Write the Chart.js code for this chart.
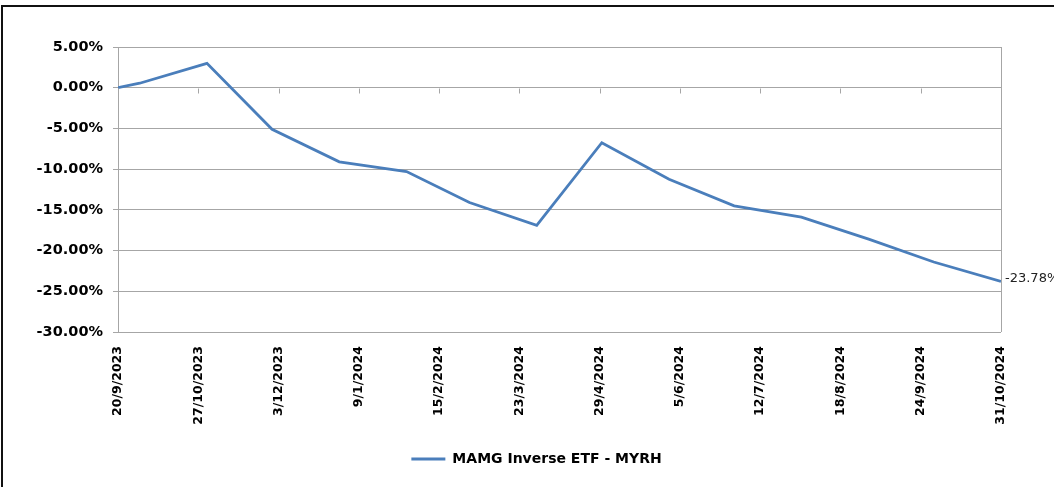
<!DOCTYPE html>
<html>
<head>
<meta charset="utf-8">
<script src="https://cdn.jsdelivr.net/npm/chart.js@4.4.1/dist/chart.umd.min.js"></script>
<style>
  html, body { margin: 0; padding: 0; background: #fff; }
  #wrap { position: relative; width: 1054px; height: 487px; overflow: hidden; }
  #frame { position: absolute; left: 1px; top: 5px; right: -10px; bottom: -10px;
           border-left: 2px solid #111; border-top: 2px solid #111; }
  #chart { position: absolute; left: 0; top: 0; }
</style>
</head>
<body>
<div id="wrap">
  <div id="frame"></div>
  <canvas id="chart" width="1054" height="487"></canvas>
</div>
<script>
'use strict';

// series start date, x values are counted in days from here
var startDate = '2023-09-20';

// month-end observations (cumulative return, %)
var pointDates = ['2023-09-20', '2023-09-30', '2023-10-31', '2023-11-30', '2023-12-31',
  '2024-01-31', '2024-02-29', '2024-03-31', '2024-04-30', '2024-05-31',
  '2024-06-30', '2024-07-31', '2024-08-31', '2024-09-30', '2024-10-31'];
var returnPct = [0, 0.55, 3.0, -5.1, -9.1,
  -10.3, -14.1, -16.9, -6.75, -11.25,
  -14.5, -15.9, -18.6, -21.4, -23.78];

// x axis ticks (every 37 days, as in the source sheet)
var tickDates = ['2023-09-20', '2023-10-27', '2023-12-03', '2024-01-09', '2024-02-15', '2024-03-23',
  '2024-04-29', '2024-06-05', '2024-07-12', '2024-08-18', '2024-09-24', '2024-10-31'];
var tickLabels = ['20/9/2023', '27/10/2023', '3/12/2023', '9/1/2024', '15/2/2024', '23/3/2024',
  '29/4/2024', '5/6/2024', '12/7/2024', '18/8/2024', '24/9/2024', '31/10/2024'];

var yTicks = [5, 0, -5, -10, -15, -20, -25, -30];
var seriesName = 'MAMG Inverse ETF - MYRH';
var endLabel = '-23.78%';

var lineColor = '#4A7EBB';
var gridColor = '#a6a6a6';
var fontFamily = '"DejaVu Sans", Verdana, sans-serif';

function dayNum(s) {
  return (Date.parse(s) - Date.parse(startDate)) / 86400000;
}

var points = pointDates.map(function (d, i) {
  return { x: dayNum(d), y: returnPct[i] };
});

// legend sits under the whole sheet, not under the canvas minus right margin
var legendShiftPlugin = {
  id: 'legendShift',
  afterLayout: function (chart) {
    if (chart.legend) {
      chart.legend.left += 36;
      chart.legend.right += 36;
    }
  }
};

// tick marks on the 0% line, right plot border and end-of-line label
var extrasPlugin = {
  id: 'extras',
  afterDraw: function (chart) {
    var ctx = chart.ctx;
    var area = chart.chartArea;
    var xs = chart.scales.x;
    var ys = chart.scales.y;
    var y0 = Math.round(ys.getPixelForValue(0)) + 0.5;

    ctx.save();
    ctx.strokeStyle = gridColor;
    ctx.lineWidth = 1;
    ctx.beginPath();
    xs.ticks.forEach(function (t) {
      var x = Math.round(xs.getPixelForValue(t.value)) + 0.5;
      ctx.moveTo(x, y0);
      ctx.lineTo(x, y0 + 5);
    });
    var xr = Math.round(area.right) + 0.5;
    ctx.moveTo(xr, area.top);
    ctx.lineTo(xr, area.bottom);
    ctx.stroke();

    var meta = chart.getDatasetMeta(0);
    var last = meta.data[meta.data.length - 1];
    ctx.fillStyle = '#222';
    ctx.font = '13px ' + fontFamily;
    ctx.textAlign = 'left';
    ctx.textBaseline = 'middle';
    ctx.fillText(endLabel, last.x + 4, last.y - 3);
    ctx.restore();
  }
};

var ctx = document.getElementById('chart').getContext('2d');
new Chart(ctx, {
  type: 'line',
  data: {
    datasets: [{
      label: seriesName,
      data: points,
      borderColor: lineColor,
      backgroundColor: lineColor,
      borderWidth: 2.8,
      pointRadius: 0,
      tension: 0,
      fill: false
    }]
  },
  options: {
    responsive: false,
    animation: false,
    layout: { padding: { left: 0, right: 53, top: 47, bottom: 11 } },
    plugins: {
      tooltip: { enabled: false },
      legend: {
        position: 'bottom',
        labels: {
          boxWidth: 34,
          boxHeight: 3,
          padding: 10,
          color: '#000',
          font: { family: fontFamily, size: 14, weight: 'bold' },
          generateLabels: function (chart) {
            var items = Chart.defaults.plugins.legend.labels.generateLabels(chart);
            items.forEach(function (it) {
              it.lineWidth = 0;
              it.fillStyle = lineColor;
            });
            return items;
          }
        }
      }
    },
    scales: {
      x: {
        type: 'linear',
        min: dayNum(pointDates[0]),
        max: dayNum(pointDates[pointDates.length - 1]),
        afterBuildTicks: function (scale) {
          scale.ticks = tickDates.map(function (d) { return { value: dayNum(d) }; });
        },
        afterFit: function (scale) { scale.height = 110; },
        grid: { display: false },
        border: { display: false },
        ticks: {
          autoSkip: false,
          minRotation: 90,
          maxRotation: 90,
          padding: 6,
          color: '#000',
          font: { family: fontFamily, size: 12.5, weight: 'bold' },
          callback: function (v, i) { return tickLabels[i]; }
        }
      },
      y: {
        min: yTicks[yTicks.length - 1],
        max: yTicks[0],
        afterBuildTicks: function (scale) {
          scale.ticks = yTicks.map(function (v) { return { value: v }; });
        },
        afterFit: function (scale) { scale.width = 118; },
        grid: { color: gridColor, lineWidth: 1, tickLength: 5, drawTicks: true },
        border: { display: true, color: gridColor, width: 1 },
        ticks: {
          padding: 10,
          color: '#000',
          font: { family: fontFamily, size: 14.5, weight: 'bold' },
          callback: function (v) { return v.toFixed(2) + '%'; }
        }
      }
    }
  },
  plugins: [legendShiftPlugin, extrasPlugin]
});
</script>
</body>
</html>
